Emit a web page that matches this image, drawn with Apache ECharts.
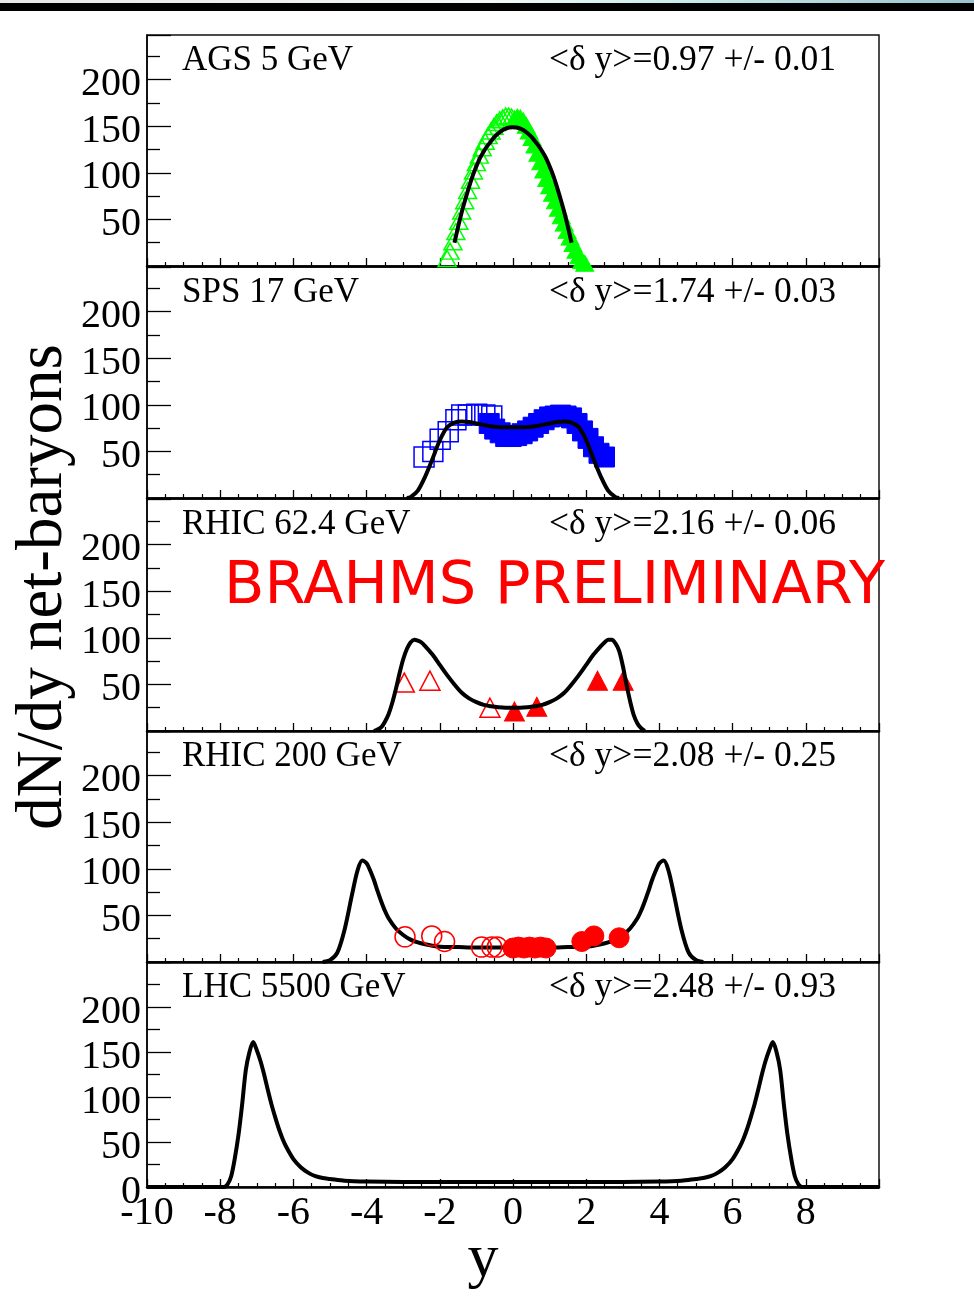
<!DOCTYPE html>
<html>
<head>
<meta charset="utf-8">
<script src="https://cdn.jsdelivr.net/npm/echarts@6/dist/echarts.min.js"></script>
<style>
html,body{margin:0;padding:0;background:#fff;}
#chart{width:974px;height:1308px;}
</style>
</head>
<body>
<div id="chart"></div>
<script>
// ---------------- data ----------------
const panelNames = ['AGS 5 GeV', 'SPS 17 GeV', 'RHIC 62.4 GeV', 'RHIC 200 GeV', 'LHC 5500 GeV'];
const deltaY = ['<\u03b4 y>=0.97 +/- 0.01', '<\u03b4 y>=1.74 +/- 0.03', '<\u03b4 y>=2.16 +/- 0.06', '<\u03b4 y>=2.08 +/- 0.25', '<\u03b4 y>=2.48 +/- 0.93'];
const xTicks = [-10, -8, -6, -4, -2, 0, 2, 4, 6, 8];
const yTicks = [0, 50, 100, 150, 200];

// AGS 5 GeV
const agsOpen = [[-1.80,8],[-1.72,16],[-1.64,26],[-1.56,37],[-1.48,48],[-1.40,59],[-1.32,70],[-1.24,81],[-1.16,92],[-1.08,102],[-1.00,111],[-0.92,119],[-0.84,127],[-0.76,134],[-0.68,140],[-0.60,145],[-0.52,150],[-0.44,154],[-0.36,157],[-0.28,159],[-0.20,161],[-0.12,161],[-0.04,160]];
const agsFilled = [[0.04,158],[0.12,160],[0.20,159],[0.28,156],[0.36,151],[0.44,145],[0.52,138],[0.60,130],[0.68,121],[0.76,112],[0.84,103],[0.92,94],[1.00,86],[1.08,78],[1.16,70],[1.24,62],[1.32,54],[1.40,46],[1.48,38],[1.56,31],[1.64,24],[1.72,17],[1.80,11],[1.88,6],[1.96,3]];
const agsFit = [[-1.6,25],[-1.5,42],[-1.4,58],[-1.3,72],[-1.2,85],[-1.1,97],[-1.0,107],[-0.9,116],[-0.8,123],[-0.7,129],[-0.6,134],[-0.5,139],[-0.4,142.5],[-0.3,145.5],[-0.2,147.5],[-0.1,148.7],[0,149],[0.1,148.7],[0.2,147.5],[0.3,145.5],[0.4,142.5],[0.5,139],[0.6,134],[0.7,129],[0.8,123],[0.9,116],[1.0,107],[1.1,97],[1.2,85],[1.3,72],[1.4,58],[1.5,42],[1.6,25]];

// SPS 17 GeV
const spsOpen = [[-2.43,44],[-2.19,50],[-1.99,63],[-1.77,71],[-1.56,84],[-1.40,89],[-1.22,89],[-0.99,90],[-0.77,89],[-0.58,88]];
const spsFilled = [[-0.65,80],[-0.5,74],[-0.35,70],[-0.2,66],[-0.05,66],[0.1,67],[0.25,69],[0.4,72],[0.55,76],[0.7,80],[0.85,84],[1.0,87],[1.15,88],[1.3,89],[1.45,88],[1.6,86],[1.75,80],[1.9,72],[2.05,64],[2.2,55],[2.35,48],[2.5,44]];
const spsFit = [[-2.9,0],[-2.8,1],[-2.6,8],[-2.4,23],[-2.2,42],[-2.0,62],[-1.8,76],[-1.6,81],[-1.4,82],[-1.2,81.5],[-1.0,80],[-0.8,78.5],[-0.6,77],[-0.4,76.2],[-0.2,76],[0,76],[0.2,76],[0.4,76.2],[0.6,77],[0.8,78.5],[1.0,80],[1.2,81.5],[1.4,82],[1.6,81],[1.8,76],[2.0,62],[2.2,42],[2.4,23],[2.6,8],[2.8,1],[2.9,0]];

// RHIC 62.4 GeV
const r62Open = [[-2.97,52],[-2.27,54],[-0.63,25]];
const r62Filled = [[0.04,21],[0.65,26],[2.31,54],[3.01,54]];
const r62Fit = [[-3.8,0],[-3.6,4],[-3.5,10],[-3.4,18],[-3.3,30],[-3.2,45],[-3.1,62],[-3.0,77],[-2.9,88],[-2.8,95],[-2.7,98],[-2.6,97],[-2.5,95],[-2.4,91],[-2.2,82],[-2.0,71],[-1.8,60],[-1.6,50],[-1.4,41],[-1.2,35],[-1.0,31],[-0.8,28],[-0.6,26.5],[-0.4,25.5],[-0.2,25],[0,25],[0.2,25],[0.4,25.5],[0.6,26.5],[0.8,28],[1.0,31],[1.2,35],[1.4,41],[1.6,50],[1.8,60],[2.0,71],[2.2,82],[2.4,91],[2.5,95],[2.6,98],[2.7,98],[2.8,94],[2.9,86],[3.0,70],[3.1,50],[3.2,32],[3.3,17],[3.4,8],[3.5,3],[3.6,0]];

// RHIC 200 GeV
const r200Open = [[-2.95,27],[-2.22,28],[-1.87,22],[-0.86,16],[-0.58,16],[-0.43,16]];
const r200Filled = [[0.0,15],[0.15,16],[0.3,15],[0.45,16],[0.6,15],[0.75,16],[0.9,15],[1.88,22],[2.21,28],[2.9,26]];
const r200Fit = [[-5.2,0],[-5.0,2],[-4.8,10],[-4.6,35],[-4.4,72],[-4.25,98],[-4.12,109],[-4.0,106],[-3.9,98],[-3.8,88],[-3.7,76],[-3.6,65],[-3.5,55],[-3.4,47],[-3.2,36],[-3.0,29],[-2.8,24],[-2.6,21],[-2.4,19],[-2.2,17.5],[-2.0,16.5],[-1.5,16],[-1.0,15.5],[0,15.5],[1.0,15.5],[1.5,16],[2.0,16.5],[2.2,17.5],[2.4,19],[2.6,21],[2.8,24],[3.0,29],[3.2,36],[3.4,47],[3.5,55],[3.6,65],[3.7,76],[3.8,88],[3.9,98],[4.0,106],[4.12,109],[4.25,98],[4.4,72],[4.6,35],[4.8,10],[5.0,2],[5.2,0]];

// LHC 5500 GeV
const lhcFit = [[-10,0],[-7.9,0],[-7.8,3],[-7.7,12],[-7.6,32],[-7.5,58],[-7.4,92],[-7.3,130],[-7.2,150],[-7.1,161],[-7.0,152],[-6.9,140],[-6.8,125],[-6.7,108],[-6.6,92],[-6.5,78],[-6.4,65],[-6.3,54],[-6.2,45],[-6.0,31],[-5.8,22],[-5.6,16],[-5.4,12],[-5.2,10],[-5.0,9],[-4.6,7],[-4.0,6],[-3.0,5.5],[0,5.5],[3.0,5.5],[4.0,6],[4.6,7],[5.0,9],[5.2,10],[5.4,12],[5.6,16],[5.8,22],[6.0,31],[6.2,45],[6.3,54],[6.4,65],[6.5,78],[6.6,92],[6.7,108],[6.8,125],[6.9,140],[7.0,152],[7.1,161],[7.2,150],[7.3,130],[7.4,92],[7.5,58],[7.6,32],[7.7,12],[7.8,3],[7.9,0],[10,0]];

// ---------------- layout ----------------
const SERIF = '"Liberation Serif","Times New Roman",serif';
const panels = [
  {top: 35, height: 231, max: 248},
  {top: 267, height: 231, max: 248},
  {top: 499, height: 232, max: 249},
  {top: 731, height: 231, max: 248},
  {top: 962, height: 225, max: 250}
];
const PLOT_LEFT = 147, PLOT_W = 732;

const grids = [], xAxes = [], yAxes = [], graphics = [];
panels.forEach((p, i) => {
  const last = i === panels.length - 1;
  grids.push({left: PLOT_LEFT, top: p.top, width: PLOT_W, height: p.height, show: true,
    borderColor: '#111', borderWidth: 1.5, backgroundColor: 'transparent'});
  xAxes.push({
    type: 'value', gridIndex: i, min: -10, max: 10, interval: 2,
    axisLine: {show: true, onZero: false, lineStyle: {color: '#000', width: 2.5}},
    axisTick: {show: true, inside: true, length: 8, lineStyle: {color: '#000', width: 1.3}},
    minorTick: {show: true, splitNumber: 4, length: 4, lineStyle: {color: '#000', width: 1.2}},
    splitLine: {show: false},
    axisLabel: {show: last, margin: 6, fontSize: 40, fontFamily: SERIF, color: '#000',
      formatter: v => (xTicks.indexOf(v) >= 0 ? String(v) : '')}
  });
  yAxes.push({
    type: 'value', gridIndex: i, min: 0, max: p.max, interval: 50,
    axisLine: {show: true, onZero: false, lineStyle: {color: '#000', width: 1.5}},
    axisTick: {show: true, inside: true, length: 24, lineStyle: {color: '#000', width: 1.3}},
    minorTick: {show: true, splitNumber: 2, length: 13, lineStyle: {color: '#000', width: 1.3}},
    splitLine: {show: false},
    axisLabel: {show: true, margin: 6, fontSize: 40, fontFamily: SERIF, color: '#000',
      verticalAlign: 'top', lineHeight: 10,
      formatter: v => (yTicks.indexOf(v) >= 0 && (v > 0 || last)) ? String(v) : ''}
  });
  graphics.push({type: 'text', left: 182, top: p.top + 8, z: 100,
    style: {text: panelNames[i], font: '35px ' + SERIF, fill: '#000'}});
  graphics.push({type: 'text', left: 549, top: p.top + 8, z: 100,
    style: {text: deltaY[i], font: '35.5px ' + SERIF, fill: '#000'}});
});

function fit(data, idx, z) {
  return {type: 'line', xAxisIndex: idx, yAxisIndex: idx, data: data, symbol: 'none',
    smooth: 0.3, z: z, lineStyle: {color: '#000', width: 4}, silent: true};
}
function pts(data, idx, symbol, size, color, filled, z) {
  return {type: 'scatter', xAxisIndex: idx, yAxisIndex: idx, data: data, symbol: symbol,
    symbolSize: size, z: z, silent: true,
    itemStyle: filled ? {color: color, borderColor: color, borderWidth: 1, opacity: 1}
                      : {color: 'rgba(0,0,0,0)', borderColor: color, borderWidth: 1.5, opacity: 1}};
}

const series = [
  pts(agsOpen, 0, 'triangle', [18, 16], '#00ff00', false, 2),
  pts(agsFilled, 0, 'triangle', [18, 16], '#00ff00', true, 2),
  fit(agsFit, 0, 3),
  pts(spsOpen, 1, 'rect', 20, '#0000ff', false, 2),
  pts(spsFilled, 1, 'rect', 20, '#0000ff', true, 2),
  fit(spsFit, 1, 3),
  pts(r62Open, 2, 'triangle', [20, 19], '#ff0000', false, 2),
  pts(r62Filled, 2, 'triangle', [20, 19], '#ff0000', true, 2),
  fit(r62Fit, 2, 3),
  fit(r200Fit, 3, 2),
  pts(r200Open, 3, 'circle', 20, '#ff0000', false, 3),
  pts(r200Filled, 3, 'circle', 20, '#ff0000', true, 3),
  fit(lhcFit, 4, 3)
];

// page decorations and titles
graphics.push({type: 'rect', left: 0, top: 0, z: 100, shape: {width: 974, height: 3},
  style: {fill: new echarts.graphic.LinearGradient(0, 0, 1, 0, [{offset: 0, color: '#e8e8e8'}, {offset: 0.5, color: '#f4f8f8'}, {offset: 0.7, color: '#c8ecec'}, {offset: 1, color: '#9cc4cc'}])}});
graphics.push({type: 'rect', left: 0, top: 3, z: 100, shape: {width: 974, height: 8}, style: {fill: '#000'}});
graphics.push({type: 'text', z: 100, x: 44, y: 587, rotation: Math.PI / 2,
  style: {text: 'dN/dy net-baryons', font: '65px ' + SERIF, fill: '#000', align: 'center', verticalAlign: 'middle', textAlign: 'center', textVerticalAlign: 'middle'}});
graphics.push({type: 'text', z: 100, x: 483, y: 1260,
  style: {text: 'y', font: '62px ' + SERIF, fill: '#000', align: 'center', verticalAlign: 'middle', textAlign: 'center', textVerticalAlign: 'middle'}});
graphics.push({type: 'text', z: 100, left: 224, top: 558,
  style: {text: 'BRAHMS PRELIMINARY', font: '59px "DejaVu Sans"', fill: '#ff0000'}});

const chart = echarts.init(document.getElementById('chart'), null, {renderer: 'canvas'});
chart.setOption({
  animation: false,
  backgroundColor: '#fff',
  grid: grids, xAxis: xAxes, yAxis: yAxes, series: series, graphic: graphics
});
</script>
</body>
</html>
